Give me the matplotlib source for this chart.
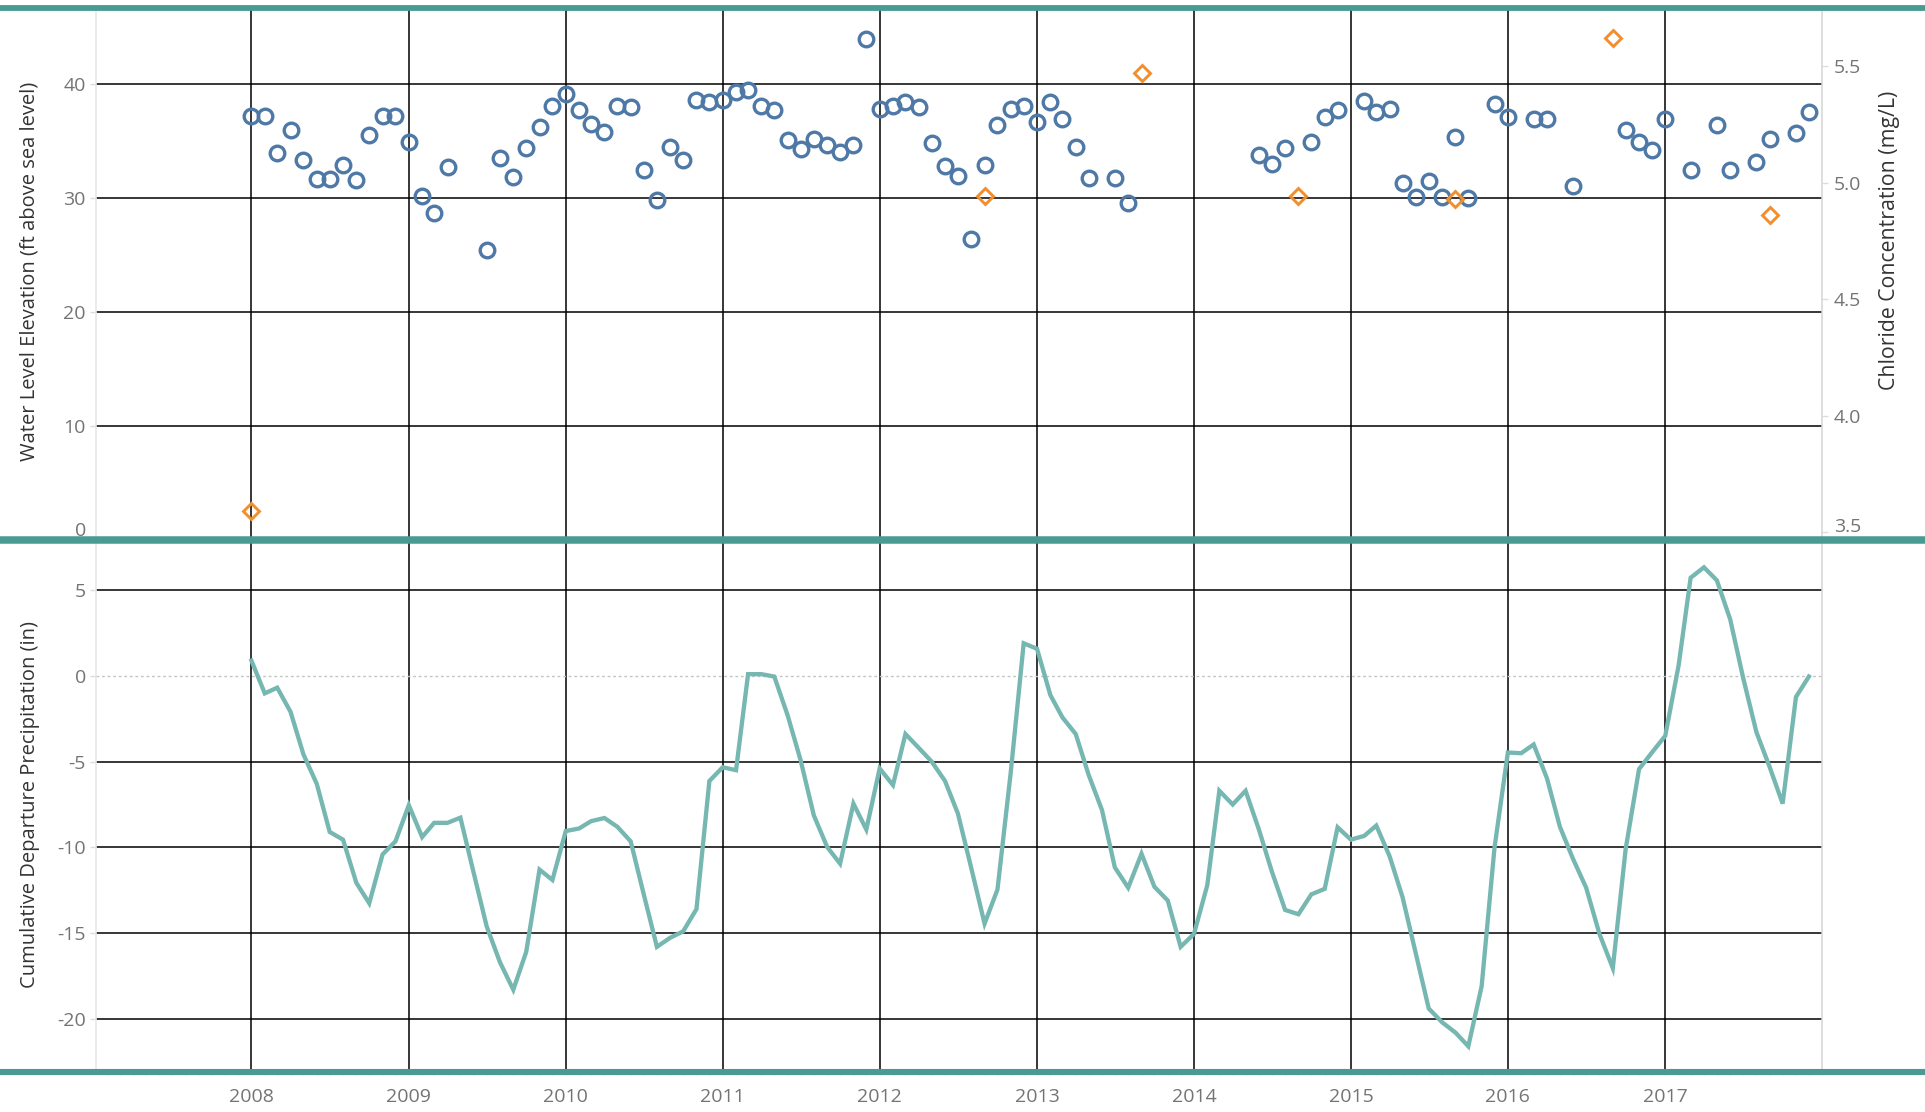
import pandas as pd
import matplotlib
matplotlib.use("Agg")
import matplotlib.pyplot as plt
import matplotlib.dates as mdates
from matplotlib.lines import Line2D

# water level readings, ft above sea level
level_dates = [
    "2008-01", "2008-02", "2008-03", "2008-04", "2008-05", "2008-06", "2008-07", "2008-08",
    "2008-09", "2008-10", "2008-11", "2008-12", "2009-01", "2009-02", "2009-03", "2009-04",
    "2009-07", "2009-08", "2009-09", "2009-10", "2009-11", "2009-12", "2010-01", "2010-02",
    "2010-03", "2010-04", "2010-05", "2010-06", "2010-07", "2010-08", "2010-09", "2010-10",
    "2010-11", "2010-12", "2011-01", "2011-02", "2011-03", "2011-04", "2011-05", "2011-06",
    "2011-07", "2011-08", "2011-09", "2011-10", "2011-11", "2011-12", "2012-01", "2012-02",
    "2012-03", "2012-04", "2012-05", "2012-06", "2012-07", "2012-08", "2012-09", "2012-10",
    "2012-11", "2012-12", "2013-01", "2013-02", "2013-03", "2013-04", "2013-05", "2013-07",
    "2013-08", "2014-06", "2014-07", "2014-08", "2014-10", "2014-11", "2014-12", "2015-02",
    "2015-03", "2015-04", "2015-05", "2015-06", "2015-07", "2015-08", "2015-09", "2015-10",
    "2015-12", "2016-01", "2016-03", "2016-04", "2016-06", "2016-10", "2016-11", "2016-12",
    "2017-01", "2017-03", "2017-05", "2017-06", "2017-08", "2017-09", "2017-11", "2017-12",
]
level_ft = [
    37.2, 37.2, 33.9, 35.95, 33.35, 31.7, 31.7, 32.86,
    31.57, 35.48, 37.2, 37.2, 34.9, 30.15, 28.7, 32.74,
    25.4, 33.5, 31.87, 34.34, 36.2, 38.08, 39.1, 37.67,
    36.47, 35.74, 38.08, 37.93, 32.48, 29.85, 34.46, 33.35,
    38.54, 38.4, 38.54, 39.27, 39.42, 38.1, 37.67, 35.07,
    34.29, 35.2, 34.6, 34.0, 34.6, 43.9, 37.78, 38.08,
    38.4, 37.93, 34.78, 32.77, 31.9, 26.4, 32.9, 36.36,
    37.8, 38.1, 36.65, 38.4, 36.94, 34.46, 31.75, 31.75,
    29.56, 33.76, 32.97, 34.34, 34.9, 37.08, 37.67, 38.5,
    37.5, 37.8, 31.3, 30.1, 31.46, 30.1, 35.36, 29.97,
    38.25, 37.08, 36.94, 36.94, 31.05, 35.95, 34.9, 34.2,
    36.94, 32.45, 36.36, 32.45, 33.18, 35.2, 35.66, 37.5,
]

# chloride samples, mg/L
chloride_dates = ["2008-01", "2012-09", "2013-09", "2014-09", "2015-09", "2016-09", "2017-09"]
chloride_mgl = [3.59, 4.94, 5.47, 4.94, 4.93, 5.62, 4.86]

# cumulative departure from normal precipitation, inches, monthly from Jan 2008
precip_start = "2008-01"
precip_in = [
    0.89, -1.02, -0.69, -2.1, -4.58, -6.3, -9.1, -9.55, -12.07, -13.26, -10.41, -9.65,
    -7.54, -9.4, -8.57, -8.57, -8.27, -11.5, -14.6, -16.7, -18.3, -16.1, -11.3, -11.9,
    -9.05, -8.9, -8.47, -8.29, -8.8, -9.65, -12.7, -15.8, -15.27, -14.9, -13.6, -6.13,
    -5.33, -5.5, 0.1, 0.1, -0.04, -2.3, -4.9, -8.14, -9.98, -10.95, -7.45, -8.96,
    -5.4, -6.37, -3.39, -4.2, -5.0, -6.13, -8.03, -11.2, -14.45, -12.46, -5.6, 1.9,
    1.58, -1.12, -2.42, -3.39, -5.77, -7.82, -11.17, -12.35, -10.37, -12.3, -13.1, -15.8,
    -15.05, -12.2, -6.7, -7.5, -6.7, -8.96, -11.4, -13.65, -13.9, -12.74, -12.42, -8.83,
    -9.55, -9.33, -8.73, -10.52, -12.9, -16.2, -19.4, -20.2, -20.8, -21.6, -18.1, -10.0,
    -4.47, -4.51, -4.0, -5.98, -8.8, -10.7, -12.35, -15.05, -17.04, -10.09, -5.44, -4.47,
    -3.5, 0.6, 5.72, 6.33, 5.57, 3.3, -0.1, -3.28, -5.33, -7.45, -1.23, -0.04,
]

year_ticks = list(range(2008, 2018))
level_ticks = [0, 10, 20, 30, 40]
chloride_ticks = [3.5, 4.0, 4.5, 5.0, 5.5]
precip_ticks = [5, 0, -5, -10, -15, -20]

BLUE = "#4e79a7"
ORANGE = "#f28e2b"
TEAL = "#76b7b2"
BAND = "#4a9a94"
TICK_TXT = "#747474"
TITLE_TXT = "#333333"
FONT = ["Open Sans", "DejaVu Sans"]

plt.rcParams["font.family"] = FONT
plt.rcParams["axes.unicode_minus"] = False

W, H = 1925, 1112
fig = plt.figure(figsize=(W / 100, H / 100), dpi=100)

left, right = 96.2 / W, 1822.2 / W
top_y, mid_y, bot_y = 8.0, 540.4, 1072.0
ax1 = fig.add_axes([left, 1 - mid_y / H, right - left, (mid_y - top_y) / H])
ax2 = fig.add_axes([left, 1 - bot_y / H, right - left, (bot_y - mid_y) / H], sharex=ax1)
ax1r = ax1.twinx()

lvl_x = pd.to_datetime(level_dates)
cl_x = pd.to_datetime(chloride_dates)
pr_x = pd.date_range(precip_start, periods=len(precip_in), freq="MS")

ax1.plot(lvl_x, level_ft, ls="none", marker="o", ms=10.5, mew=2.4,
         mfc="none", mec=BLUE, zorder=3)
ax1r.plot(cl_x, chloride_mgl, ls="none", marker="D", ms=8.5, mew=2.1,
          mfc="none", mec=ORANGE, zorder=3)
ax2.plot(pr_x, precip_in, color=TEAL, lw=3.1, solid_joinstyle="miter", zorder=3)

year_pos = [pd.Timestamp(f"{y}-01-01") for y in year_ticks]
ax1.set_xlim(pd.Timestamp("2007-01-05"), pd.Timestamp("2018-01-01"))
ax1.set_ylim(-0.03, 46.65)
ax1r.set_ylim(3.464, 5.749)
ax2.set_ylim(-23.1, 7.9)

grid_kw = dict(color="black", lw=1.1, zorder=1)
for ax in (ax1, ax2):
    for d in year_pos:
        ax.axvline(d, **grid_kw)
for v in level_ticks[1:]:
    ax1.axhline(v, **grid_kw)
for v in precip_ticks:
    if v == 0:
        ax2.axhline(v, color="#c4c4c4", lw=1.0, ls=(0, (2, 2)), zorder=1)
    else:
        ax2.axhline(v, **grid_kw)

ax2.set_xticks(year_pos)
ax2.set_xticklabels([str(y) for y in year_ticks])
ax2.xaxis.set_minor_locator(mdates.MonthLocator())
ax2.tick_params(axis="x", which="both", length=2.5, color="#e2e2e2", width=1,
                labelsize=14, labelcolor=TICK_TXT, pad=9)
ax1.tick_params(axis="x", which="both", length=0, labelbottom=False)

ax1.set_yticks(level_ticks)
ax2.set_yticks(precip_ticks)
ax1r.set_yticks(chloride_ticks)
ax1r.set_yticklabels([f"{v:.1f}" for v in chloride_ticks])
for ax in (ax1, ax2):
    ax.tick_params(axis="y", length=4.5, color="#dcdcdc", width=1,
                   labelsize=14, labelcolor=TICK_TXT, pad=3)
ax1r.tick_params(axis="y", length=4.5, color="#dcdcdc", width=1,
                 labelsize=14, labelcolor=TICK_TXT, pad=4)

# keep the edge labels clear of the divider band
ax1.get_yticklabels()[0].set_verticalalignment("bottom")
ax1r.get_yticklabels()[0].set_verticalalignment("baseline")

for ax in (ax1, ax2, ax1r):
    for s in ax.spines.values():
        s.set_visible(False)
for ax in (ax1, ax2):
    ax.spines["left"].set_visible(True)
    ax.spines["left"].set_color("#e6e6e6")
    ax.spines["left"].set_linewidth(1.1)
    ax.spines["right"].set_visible(True)
    ax.spines["right"].set_color("#d4d4d4")
    ax.spines["right"].set_linewidth(1.1)

# teal row dividers across the full width
for y, lw in ((7.5, 4.2), (mid_y, 5.4), (bot_y, 4.4)):
    fig.add_artist(Line2D([0, 1], [1 - y / H, 1 - y / H], transform=fig.transFigure,
                          color=BAND, lw=lw, solid_capstyle="butt", zorder=10))

title_kw = dict(rotation=90, ha="center", va="center", color=TITLE_TXT, fontsize=14.5)
fig.text(30 / W, 1 - 271 / H, "Water Level Elevation (ft above sea level)", **title_kw)
fig.text(30 / W, 1 - 805 / H, "Cumulative Departure Precipitation (in)", **title_kw)
fig.text(1890 / W, 1 - 240 / H, "Chloride Concentration (mg/L)", **dict(title_kw, fontsize=15.3))

fig.savefig("out.png", dpi=100, facecolor="white")
